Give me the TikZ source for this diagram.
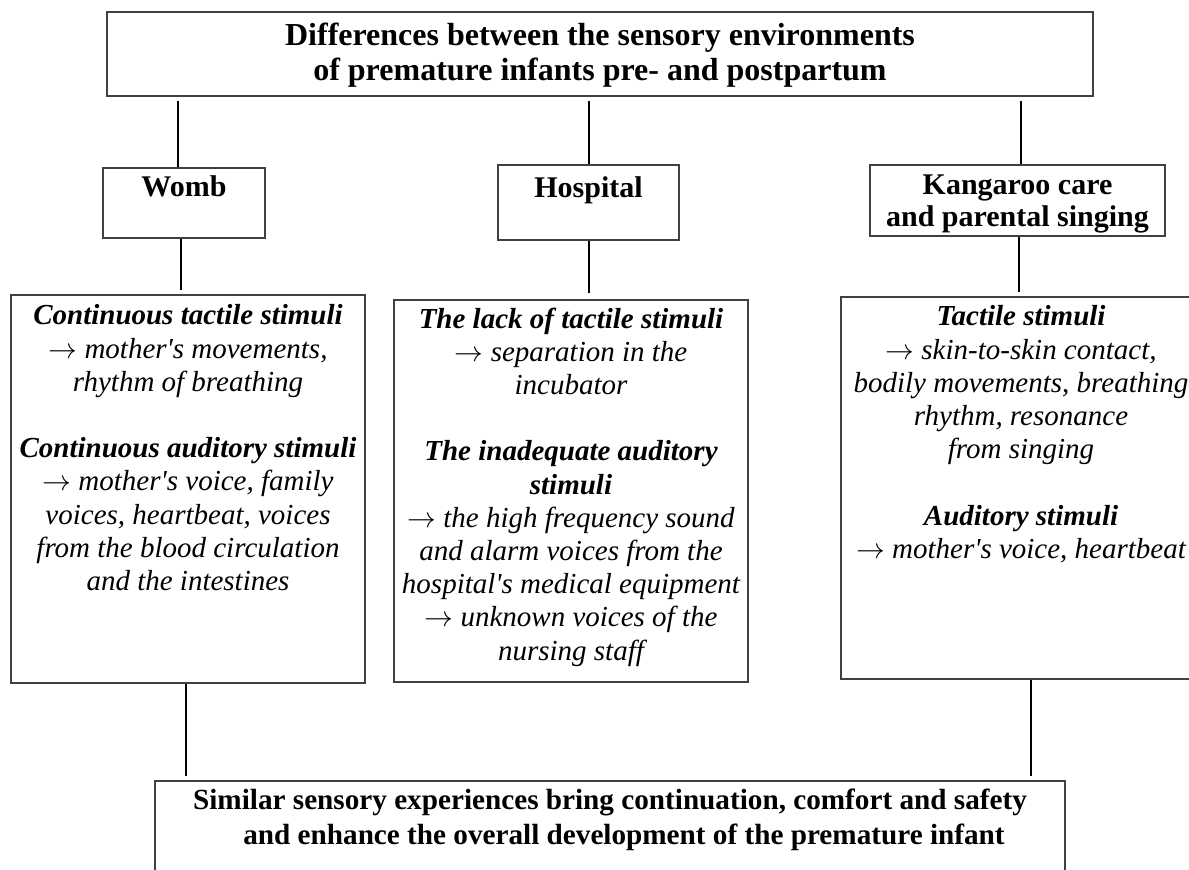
\documentclass[tikz,border=0pt]{standalone}
\usepackage{fontspec}
\setmainfont{Liberation Serif}
\usetikzlibrary{positioning,fit}

\newcommand{\ap}{\textquotesingle}
\newcommand{\arrw}{$\rightarrow$\ }

\tikzset{
  box/.style={draw=black!75, line width=0.7pt, inner sep=0pt},
  link/.style={line width=1pt},
  headtxt/.style={inner sep=0pt, align=center, font=\fontsize{16}{17.5}\selectfont\bfseries},
  labeltxt/.style={inner sep=0pt, align=center, font=\fontsize{15}{16}\selectfont\bfseries},
  bodytxt/.style={inner sep=0pt, align=center, font=\fontsize{14.5}{16.6}\selectfont\itshape},
  foottxt/.style={inner sep=0pt, align=center, font=\fontsize{14.6}{17.5}\selectfont\bfseries},
}

\begin{document}
\begin{tikzpicture}[x=0.5pt, y=-0.5pt]
\useasboundingbox (0,0) rectangle (1189,869);

% title
\node[box, fit={(107,12) (1093,96)}] (top) {};
\node[headtxt, below=5.5pt of top.north] (toptext) {Differences between the sensory environments\\ of premature infants pre- and postpartum};

% the three settings
\node[box, fit={(103,168) (265,238)}] (womb) {};
\node[labeltxt, below=4pt of womb.north] (wombtext) {Womb};
\node[box, fit={(498,165) (679,240)}] (hosp) {};
\node[labeltxt, below=6pt of hosp.north] (hosptext) {Hospital};
\node[box, fit={(870,165) (1165,236)}] (kang) {};
\node[labeltxt, below=5pt of kang.north] (kangtext) {Kangaroo care\\ and parental singing};

% stimuli
\node[box, fit={(11,295) (365,683)}] (wombc) {};
\node[bodytxt, below=5pt of wombc.north] (wombctext) {\textbf{Continuous tactile stimuli}\\
  \arrw mother\ap s movements,\\ rhythm of breathing\\[16.6pt]
  \textbf{Continuous auditory stimuli}\\
  \arrw mother\ap s voice, family\\ voices, heartbeat, voices\\
  from the blood circulation\\ and the intestines};
\node[box, fit={(394,300) (748,682)}] (hospc) {};
\node[bodytxt, below=4pt of hospc.north] (hospctext) {\textbf{The lack of tactile stimuli}\\
  \arrw separation in the\\ incubator\\[16.6pt]
  \textbf{The inadequate auditory}\\ \textbf{stimuli}\\
  \arrw the high frequency sound\\ and alarm voices from the\\
  hospital\ap s medical equipment\\
  \arrw unknown voices of the\\ nursing staff};
\node[box, fit={(841,297) (1201,679)}] (kangc) {};
\node[bodytxt, below=4.5pt of kangc.north] (kangctext) {\textbf{Tactile stimuli}\\
  \arrw skin-to-skin contact,\\ bodily movements, breathing\\
  rhythm, resonance\\ from singing\\[16.6pt]
  \textbf{Auditory stimuli}\\
  \arrw mother\ap s voice, heartbeat};

% outcome
\node[box, fit={(155,781) (1065,900)}] (sim) {};
\node[foottxt, below=4pt of sim.north] (simtext) {Similar sensory experiences bring continuation, comfort and safety\\
  \hspace*{14pt}and enhance the overall development of the premature infant};

% connectors
\coordinate (w1) at ([xshift=-3pt]womb.north);
\coordinate (k1) at ([xshift=1.5pt]kang.north);
\draw[link, shorten <=2pt] (top.south -| w1) -- (w1);
\draw[link, shorten <=2pt] (top.south -| hosp.north) -- (hosp.north);
\draw[link, shorten <=2pt] (top.south -| k1) -- (k1);

\coordinate (w2) at ([xshift=-1.75pt]womb.south);
\coordinate (k2) at ([xshift=0.75pt]kang.south);
\draw[link, shorten >=2pt] (w2) -- (w2 |- wombc.north);
\draw[link, shorten >=3pt] (hosp.south) -- (hosp.south |- hospc.north);
\draw[link, shorten >=2pt] (k2) -- (k2 |- kangc.north);

\coordinate (w3) at ([xshift=-1pt]wombc.south);
\coordinate (k3) at ([xshift=4.75pt]kangc.south);
\draw[link, shorten >=2pt] (w3) -- (w3 |- sim.north);
\draw[link, shorten >=2pt] (k3) -- (k3 |- sim.north);
\end{tikzpicture}
\end{document}
